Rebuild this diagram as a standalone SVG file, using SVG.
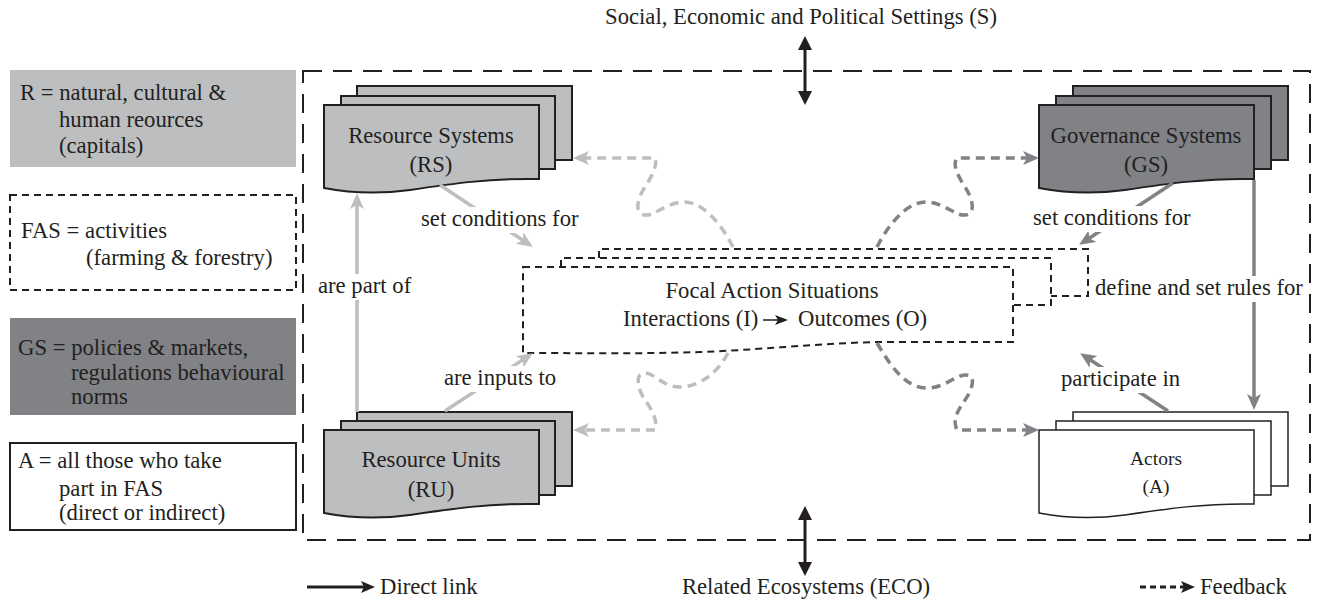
<svg xmlns="http://www.w3.org/2000/svg" width="1322" height="601" viewBox="0 0 1322 601">
<style>
text{font-family:"Liberation Serif","Times New Roman",serif;font-size:22.7px;fill:#231f20}
.c{text-anchor:middle}
.sm{font-size:19.5px}
.lg{fill:#bcbec0}
.dg{fill:#808285}
.sheet{stroke:#231f20;stroke-width:2}
.wsheet{fill:#fff;stroke:#231f20;stroke-width:1.5}
.fas{fill:#fff;stroke:#231f20;stroke-width:2;stroke-dasharray:7 5}
.lline{fill:none;stroke:#bcbec0;stroke-width:3.5}
.dline{fill:none;stroke:#808285;stroke-width:3.5}
.dash{stroke-dasharray:9 6}
.blk{fill:none;stroke:#231f20;stroke-width:3}
.bg{fill:#fff}
</style>
<defs>
<marker id="aL" markerUnits="userSpaceOnUse" markerWidth="18" markerHeight="16" refX="9" refY="7" orient="auto"><path d="M0,0 L16,7 L0,14 L4,7 Z" fill="#bcbec0"/></marker>
<marker id="aD" markerUnits="userSpaceOnUse" markerWidth="18" markerHeight="16" refX="9" refY="7" orient="auto"><path d="M0,0 L16,7 L0,14 L4,7 Z" fill="#808285"/></marker>
<marker id="aB" markerUnits="userSpaceOnUse" markerWidth="18" markerHeight="16" refX="8" refY="6" orient="auto"><path d="M0,0 L14,6 L0,12 L3,6 Z" fill="#231f20"/></marker>
<marker id="aBs" markerUnits="userSpaceOnUse" markerWidth="18" markerHeight="16" refX="6" refY="7" orient="auto-start-reverse"><path d="M0,0 L14,7 L0,14 Z" fill="#231f20"/></marker>
</defs>

<!-- legend -->
<g id="legend-R">
<rect x="10" y="70" width="286" height="97" class="lg"/>
<text x="20" y="100">R = natural, cultural &amp;</text>
<text x="59" y="127">human reources</text>
<text x="59" y="153">(capitals)</text>
</g>
<g id="legend-FAS">
<rect x="10" y="195" width="286" height="95" class="fas"/>
<text x="21" y="238">FAS = activities</text>
<text x="86" y="265">(farming &amp; forestry)</text>
</g>
<g id="legend-GS">
<rect x="10" y="318" width="286" height="97" class="dg"/>
<text x="18" y="355">GS = policies &amp; markets,</text>
<text x="71" y="380">regulations behavioural</text>
<text x="71" y="404">norms</text>
</g>
<g id="legend-A">
<rect x="10" y="443" width="286" height="87" fill="#fff" stroke="#231f20" stroke-width="2"/>
<text x="18" y="468">A = all those who take</text>
<text x="59" y="496">part in FAS</text>
<text x="59" y="520">(direct or indirect)</text>
</g>

<!-- boundary -->
<g id="boundary">
<rect x="303" y="71" width="1007" height="469" fill="none" stroke="#231f20" stroke-width="2" stroke-dasharray="19 11"/>
</g>

<!-- nodes -->
<g id="RS">
<rect x="357" y="86" width="215" height="74" class="lg sheet"/>
<rect x="341" y="96" width="214" height="73" class="lg sheet"/>
<path d="M324,105 H539 V179 C490,178 450,184 410,190 C380,194 350,193 324,188 Z" class="lg sheet"/>
<text x="431" y="143" class="c">Resource Systems</text>
<text x="431" y="172" class="c">(RS)</text>
</g>
<g id="GS">
<rect x="1073" y="86" width="215" height="74" class="dg sheet"/>
<rect x="1056" y="96" width="215" height="73" class="dg sheet"/>
<path d="M1039,105 H1254 V179 C1205,178 1165,184 1125,190 C1095,194 1065,193 1039,188 Z" class="dg sheet"/>
<text x="1146" y="143" class="c">Governance Systems</text>
<text x="1146" y="172" class="c">(GS)</text>
</g>
<g id="RU">
<rect x="357" y="412" width="215" height="74" class="lg sheet"/>
<rect x="341" y="421" width="214" height="74" class="lg sheet"/>
<path d="M324,430 H539 V504 C490,503 450,509 410,515 C380,519 350,518 324,513 Z" class="lg sheet"/>
<text x="431" y="467" class="c">Resource Units</text>
<text x="431" y="497" class="c">(RU)</text>
</g>
<g id="A">
<rect x="1073" y="412" width="215" height="74" class="wsheet"/>
<rect x="1056" y="421" width="215" height="74" class="wsheet"/>
<path d="M1039,430 H1254 V504 C1205,503 1165,509 1125,515 C1095,519 1065,518 1039,513 Z" class="wsheet"/>
<text x="1156" y="465" class="c sm">Actors</text>
<text x="1156" y="493" class="c sm">(A)</text>
</g>
<g id="FAS">
<path d="M599,258 V249 H1088 V296 H1051" class="fas"/>
<path d="M561,267 V258 H1051 V305 H1013" class="fas"/>
<path d="M523,267 H1013 V342 H880 C820,343 760,350 700,352 C640,354 580,353 523,353 Z" class="fas"/>
<text x="772" y="298" class="c">Focal Action Situations</text>
<text x="623" y="326">Interactions (I)</text>
<line x1="763" y1="320" x2="778" y2="320" stroke="#231f20" stroke-width="1.5"/>
<path d="M775,315 L788,320 L775,325 L778,320 Z" fill="#231f20"/>
<text x="798" y="326">Outcomes (O)</text>
</g>

<!-- connectors -->
<g id="connectors">
<line x1="357" y1="412" x2="357" y2="200" class="lline" marker-end="url(#aL)"/>
<line x1="440" y1="185" x2="527" y2="243" class="lline" marker-end="url(#aL)"/>
<line x1="445" y1="411" x2="527" y2="357" class="lline" marker-end="url(#aL)"/>
<line x1="1173" y1="183" x2="1085" y2="241" class="dline" marker-end="url(#aD)"/>
<line x1="1254" y1="180" x2="1254" y2="403" class="dline" marker-end="url(#aD)"/>
<line x1="1168" y1="411" x2="1086" y2="357" class="dline" marker-end="url(#aD)"/>
<path d="M733,247 C722,225 702,200 682,202 C664,204 655,216 645,215 C633,214 638,197 645,187 C652,176 658,165 655,158 L580,158" class="lline dash" marker-end="url(#aL)"/>
<path d="M877,247 C888,225 908,200 928,202 C946,204 955,216 965,215 C977,214 972,197 965,187 C958,176 952,165 957,158 L1032,158" class="dline dash" marker-end="url(#aD)"/>
<path d="M728,353 C718,372 700,387 680,387 C662,387 655,373 645,373 C634,373 638,390 645,400 C652,410 658,420 655,430 L580,430" class="lline dash" marker-end="url(#aL)"/>
<path d="M877,343 C890,365 905,388 927,388 C945,388 955,375 966,375 C977,375 972,390 965,400 C958,410 952,420 957,430 L1032,430" class="dline dash" marker-end="url(#aD)"/>
<line x1="805" y1="44" x2="805" y2="97" class="blk" marker-start="url(#aBs)" marker-end="url(#aBs)"/>
<line x1="805" y1="514" x2="805" y2="568" class="blk" marker-start="url(#aBs)" marker-end="url(#aBs)"/>
</g>

<!-- labels -->
<g id="labels">
<rect x="317" y="274" width="98" height="26" class="bg"/>
<text x="318" y="293">are part of</text>
<rect x="419" y="207" width="164" height="26" class="bg"/>
<text x="421" y="226">set conditions for</text>
<rect x="442" y="366" width="117" height="26" class="bg"/>
<text x="444" y="385">are inputs to</text>
<rect x="1031" y="206" width="164" height="26" class="bg"/>
<text x="1033" y="225">set conditions for</text>
<rect x="1093" y="276" width="214" height="26" class="bg"/>
<text x="1095" y="295">define and set rules for</text>
<rect x="1059" y="367" width="124" height="26" class="bg"/>
<text x="1061" y="386">participate in</text>
</g>

<!-- outer labels -->
<g id="settings">
<text x="801" y="24" class="c">Social, Economic and Political Settings (S)</text>
<text x="806" y="594" class="c">Related Ecosystems (ECO)</text>
</g>
<g id="key">
<line x1="307" y1="587" x2="369" y2="587" class="blk" marker-end="url(#aB)"/>
<text x="380" y="594">Direct link</text>
<line x1="1140" y1="587" x2="1189" y2="587" class="blk" stroke-dasharray="6 4" marker-end="url(#aB)"/>
<text x="1200" y="594">Feedback</text>
</g>
</svg>
